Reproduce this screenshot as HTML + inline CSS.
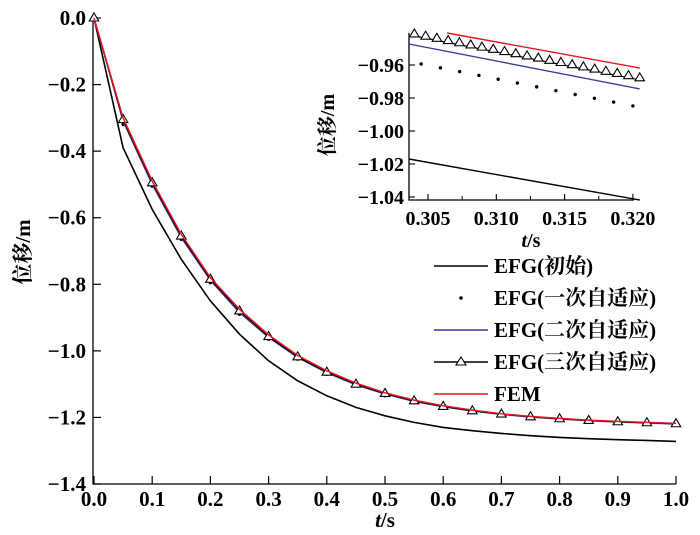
<!DOCTYPE html>
<html><head><meta charset="utf-8"><style>
body{margin:0;background:#fff;}
svg{display:block;}
svg text{font-family:"Liberation Serif","Noto Serif CJK SC",serif;}
</style></head><body>
<svg id="c" width="700" height="535"></svg>
<script>
const tMain=[0,0.05,0.1,0.15,0.2,0.25,0.3,0.35,0.4,0.45,0.5,0.55,0.6,0.65,0.7,0.75,0.8,0.85,0.9,0.95,1.0];
const initVals=[0,-0.39,-0.575,-0.725,-0.85,-0.95,-1.03,-1.09,-1.135,-1.17,-1.195,-1.215,-1.23,-1.24,-1.248,-1.255,-1.26,-1.264,-1.267,-1.269,-1.272];
const ad1Vals=[0,-0.32,-0.505,-0.665,-0.795,-0.89,-0.965,-1.025,-1.07,-1.105,-1.135,-1.155,-1.17,-1.183,-1.193,-1.2,-1.206,-1.211,-1.215,-1.218,-1.221];
const ad2Vals=[0,-0.31,-0.5,-0.66,-0.788,-0.885,-0.96,-1.02,-1.066,-1.102,-1.13,-1.152,-1.168,-1.181,-1.191,-1.199,-1.205,-1.21,-1.214,-1.217,-1.22];
const ad3Vals=[0,-0.305,-0.495,-0.655,-0.785,-0.88,-0.957,-1.018,-1.064,-1.1,-1.128,-1.15,-1.167,-1.18,-1.19,-1.198,-1.204,-1.209,-1.213,-1.216,-1.219];
const femVals=[0,-0.3,-0.49,-0.65,-0.78,-0.875,-0.952,-1.014,-1.06,-1.097,-1.126,-1.148,-1.165,-1.178,-1.189,-1.197,-1.203,-1.208,-1.212,-1.215,-1.218];
const xTicks=[0,0.1,0.2,0.3,0.4,0.5,0.6,0.7,0.8,0.9,1.0];
const xTickLabels=["0.0","0.1","0.2","0.3","0.4","0.5","0.6","0.7","0.8","0.9","1.0"];
const yTicks=[0,-0.2,-0.4,-0.6,-0.8,-1.0,-1.2,-1.4];
const yTickLabels=["0.0","\u22120.2","\u22120.4","\u22120.6","\u22120.8","\u22121.0","\u22121.2","\u22121.4"];
// inset
const tIn=[0.3036,0.3205];
const inInit=[-1.017,-1.0418];
const inAd2=[-0.9473,-0.9745];
const inFemT=[0.3064,0.3205];
const inFem=[-0.9406,-0.9618];
const inAd3T=[0.3040,0.3205];
const inAd3=[-0.9424,-0.969];
const inAd1T=[0.3045,0.3200];
const inAd1=[-0.9594,-0.9848];
const inXTicks=[0.305,0.310,0.315,0.320];
const inXLabels=["0.305","0.310","0.315","0.320"];
const inYTicks=[-0.96,-0.98,-1.00,-1.02,-1.04];
const inYLabels=["\u22120.96","\u22120.98","\u22121.00","\u22121.02","\u22121.04"];

const svg=document.getElementById('c');
const NS='http://www.w3.org/2000/svg';
const FONT='"Liberation Serif", "Noto Serif CJK SC", serif';
function mk(tag,attrs,parent){const e=document.createElementNS(NS,tag);for(const k in attrs)e.setAttribute(k,attrs[k]);if(tag==='text')e.setAttribute('font-family',FONT);(parent||svg).appendChild(e);return e;}
const X=t=>94+t*582, Y=v=>18-v/1.4*466;
const XI=t=>428+(t-0.305)/0.005*68.3, YI=v=>65+(-0.96-v)/0.02*33;

let a=mk('path',{d:`M93 ${Y(0)} V${Y(-1.4)} H${X(1)}`,stroke:'#000','stroke-width':1.3,fill:'none'});


xTicks.forEach((t,i)=>{
 mk('line',{x1:X(t),x2:X(t),y1:Y(-1.4),y2:Y(-1.4)-8,stroke:'#000','stroke-width':1.2});
 const tx=mk('text',{x:X(t),y:506,'font-size':21,'font-weight':'bold','text-anchor':'middle'});tx.textContent=xTickLabels[i];
 
 
});
yTicks.forEach((v,i)=>{
 mk('line',{x1:93,x2:101,y1:Y(v),y2:Y(v),stroke:'#000','stroke-width':1.2});
 const tx=mk('text',{x:86,y:Y(v)+7,'font-size':21,'font-weight':'bold','text-anchor':'end'});tx.textContent=yTickLabels[i];
 
 
});
let xt=mk('text',{x:385,y:527,'font-size':21,'font-weight':'bold','text-anchor':'middle'});
xt.innerHTML='<tspan font-style="italic">t</tspan>/s';


let yt=mk('text',{x:0,y:0,'font-size':21,'font-weight':'bold','text-anchor':'middle',transform:'translate(30,252) rotate(-90)'});
yt.textContent='位移/m';



function line(xs,ys,fx,fy,color,w,name){
 const d=xs.map((t,i)=>(i?'L':'M')+fx(t).toFixed(1)+' '+fy(ys[i]).toFixed(1)).join(' ');
 const p=mk('path',{d,stroke:color,'stroke-width':w,fill:'none'});
 
 
}
function tri(x,y,s){const p=mk('path',{d:`M${x} ${y-s} L${x+s*0.95} ${y+s*0.6} L${x-s*0.95} ${y+s*0.6}Z`,stroke:'#000','stroke-width':1.1,fill:'#fff'});
 
 }
function dot(x,y){const c=mk('circle',{cx:x,cy:y,r:1.7,fill:'#000'});
 
 }

line(tMain,initVals,X,Y,'#000',1.6,'series-efg-initial');
tMain.forEach((t,i)=>dot(X(t),Y(ad1Vals[i])));
line(tMain,ad2Vals,X,Y,'#3a3a9a',1.4,'series-efg-2nd');
line(tMain,ad3Vals,X,Y,'#000',1.2,'series-efg-3rd');
tMain.forEach((t,i)=>tri(X(t),Y(ad3Vals[i]),5));
line(tMain,femVals,X,Y,'#e8141e',1.5,'series-fem');

let ia=mk('path',{d:`M409 ${YI(-0.9405)} V200 H634`,stroke:'#000','stroke-width':1.3,fill:'none'});


inXTicks.forEach((t,i)=>{
 mk('line',{x1:XI(t),x2:XI(t),y1:200,y2:194,stroke:'#000','stroke-width':1.1});
 const tx=mk('text',{x:XI(t),y:225,'font-size':20,'font-weight':'bold','text-anchor':'middle'});tx.textContent=inXLabels[i];
 
 
});
[0.3075,0.3125,0.3175].forEach(t=>{mk('line',{x1:XI(t),x2:XI(t),y1:200,y2:196,stroke:'#000','stroke-width':1});});
inYTicks.forEach((v,i)=>{
 mk('line',{x1:409,x2:415,y1:YI(v),y2:YI(v),stroke:'#000','stroke-width':1.1});
 const tx=mk('text',{x:404,y:YI(v)+7,'font-size':20,'font-weight':'bold','text-anchor':'end'});tx.textContent=inYLabels[i];
 
 
});
let ixt=mk('text',{x:531,y:247,'font-size':20,'font-weight':'bold','text-anchor':'middle'});
ixt.innerHTML='<tspan font-style="italic">t</tspan>/s';


let iyt=mk('text',{x:0,y:0,'font-size':20,'font-weight':'bold','text-anchor':'middle',transform:'translate(334,125) rotate(-90)'});
iyt.textContent='位移/m';



line(tIn,inInit,XI,YI,'#000',1.4,'inset-efg-initial');
line(tIn,inAd2,XI,YI,'#3a3a9a',1.4,'inset-efg-2nd');
line(inFemT,inFem,XI,YI,'#e8141e',1.4,'inset-fem');
line(inAd3T,inAd3,XI,YI,'#000',1.2,'inset-efg-3rd');
for(let k=0;k<=20;k++){const t=inAd3T[0]+(inAd3T[1]-inAd3T[0])*k/20;const v=inAd3[0]+(inAd3[1]-inAd3[0])*k/20;tri(XI(t),YI(v)-2,5);}
for(let k=0;k<=11;k++){const t=inAd1T[0]+(inAd1T[1]-inAd1T[0])*k/11;const v=inAd1[0]+(inAd1[1]-inAd1[0])*k/11;dot(XI(t),YI(v));}

const legLabels=['EFG(初始)','EFG(一次自适应)','EFG(二次自适应)','EFG(三次自适应)','FEM'];
const legY=[266,298,330,362,394];
legLabels.forEach((lab,i)=>{
 const g=mk('g',{});
 
 
 const y=legY[i];
 if(i===1){mk('circle',{cx:461,cy:y,r:1.8,fill:'#000'},g);}
 else{const col=['#000','','#3a3a9a','#000','#e8141e'][i];mk('line',{x1:434,x2:488,y1:y,y2:y,stroke:col,'stroke-width':1.5},g);}
 if(i===3){mk('path',{d:`M461 ${y-5} L466 ${y+3} L456 ${y+3}Z`,stroke:'#000','stroke-width':1.1,fill:'#fff'},g);}
 const tx=mk('text',{x:494,y:y+7,'font-size':21,'font-weight':'bold'},g);tx.textContent=lab;
});
</script>
</body></html>
